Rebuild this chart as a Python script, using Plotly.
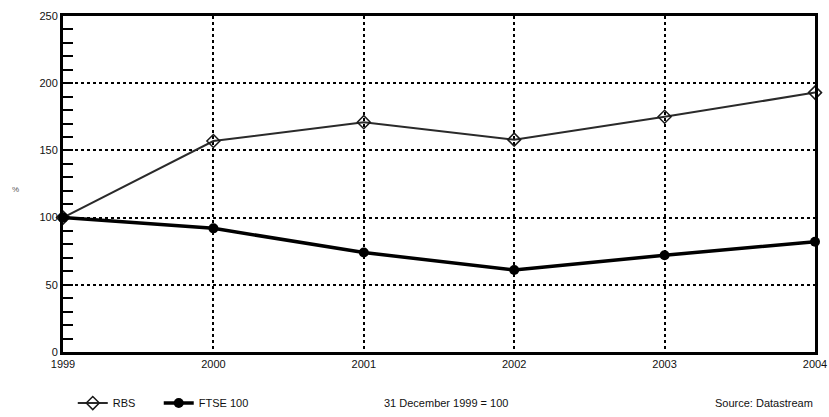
import plotly.graph_objects as go

# Index values, 31 December 1999 = 100
years = [1999, 2000, 2001, 2002, 2003, 2004]
rbs = [100, 157, 171, 158, 175, 193]
ftse = [100, 92, 74, 61, 72, 82]
year_labels = ["1999", "2000", "2001", "2002", "2003", "2004"]
y_ticks = [0, 50, 100, 150, 200, 250]

font = "Liberation Sans"
gap = "\u00a0" * 6  # extra room after the first legend entry

fig = go.Figure()
fig.add_trace(go.Scatter(
    x=years, y=rbs, name="RBS" + gap, mode="lines+markers",
    line=dict(color="#2a2a2a", width=2),
    marker=dict(symbol="diamond-open", size=10, color="#1a1a1a", line=dict(width=1.5)),
    cliponaxis=False,
))
fig.add_trace(go.Scatter(
    x=years, y=ftse, name="FTSE 100", mode="lines+markers",
    line=dict(color="#000000", width=3.5),
    marker=dict(symbol="circle", size=10, color="#000000"),
    cliponaxis=False,
))

fig.update_layout(
    width=829, height=417,
    margin=dict(l=63, r=14, t=16, b=65, autoexpand=False),
    paper_bgcolor="white", plot_bgcolor="white",
    font=dict(family=font, size=11, color="#111"),
    showlegend=True,
    legend=dict(
        orientation="h", x=0.013, y=-0.152, xanchor="left", yanchor="middle",
        font=dict(size=11, color="#111"), itemwidth=30,
        bgcolor="rgba(0,0,0,0)", tracegroupgap=0,
    ),
    xaxis=dict(
        range=[1999, 2004], tickmode="array", tickvals=years, ticktext=year_labels,
        showgrid=True, gridcolor="#000", griddash="dot", gridwidth=1.5,
        showline=True, linecolor="#000", linewidth=3, mirror=True,
        ticks="", zeroline=False,
        tickfont=dict(size=11, color="#111"),
    ),
    yaxis=dict(
        range=[0, 250], tickmode="array", tickvals=y_ticks,
        showgrid=True, gridcolor="#000", griddash="dot", gridwidth=1.5,
        showline=True, linecolor="#000", linewidth=3, mirror=True,
        ticks="inside", ticklen=10, tickwidth=2, tickcolor="#000",
        minor=dict(dtick=10, ticks="inside", ticklen=10, tickwidth=2, tickcolor="#000", showgrid=False),
        zeroline=False,
        tickfont=dict(size=11, color="#111"),
    ),
)

fig.add_annotation(
    text="%", xref="paper", yref="paper", x=-0.07, y=0.485,
    showarrow=False, font=dict(size=8, color="#555"),
)
fig.add_annotation(
    text="31 December 1999 = 100", xref="paper", yref="paper",
    x=(382 - 63) / 752, y=-0.152, xanchor="left", yanchor="middle",
    showarrow=False, font=dict(size=11, color="#111"),
)
fig.add_annotation(
    text="Source: Datastream", xref="paper", yref="paper",
    x=1.0, y=-0.152, xanchor="right", yanchor="middle",
    showarrow=False, font=dict(size=11, color="#111"),
)

fig.write_html("out.html")
